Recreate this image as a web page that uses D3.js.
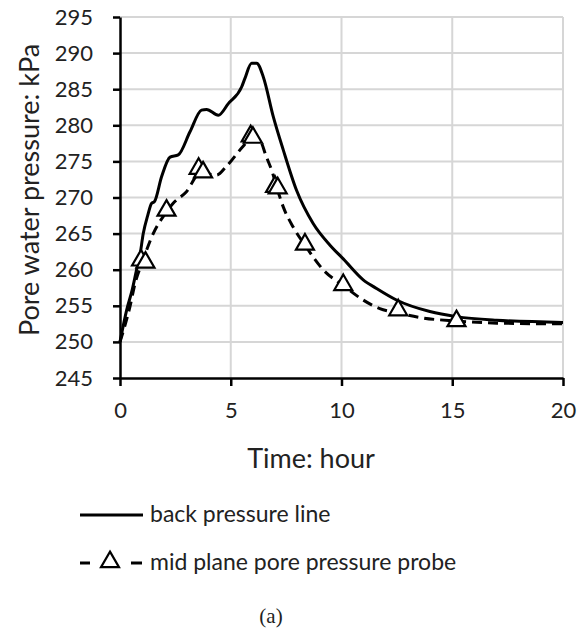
<!DOCTYPE html>
<html>
<head>
<meta charset="utf-8">
<script src="https://cdn.jsdelivr.net/npm/d3@7"></script>
<style>
  body { margin: 0; background: #fff; }
  svg text { font-family: Lato, "Open Sans", sans-serif; fill: #222; }
</style>
</head>
<body>
<svg id="chart" width="587" height="630"></svg>
<script>
// back pressure line (hour, kPa)
const backTime  = [0, 0.3, 0.55, 0.75, 0.9, 1.05, 1.25, 1.43, 1.55, 1.88, 2.26, 2.63, 3.16, 3.68, 3.91, 4.44, 4.89, 5.49, 5.64, 5.94, 6.17, 6.47, 6.92, 7.37, 7.97, 8.72, 9.48, 10.08, 10.98, 11.58, 12.48, 13.99, 15.19, 17, 20];
const backPress = [250, 254.4, 257.2, 260, 262, 265, 267.5, 269.2, 269.4, 272.9, 275.6, 275.9, 279.1, 282.1, 282.2, 281.4, 283.0, 285.3, 286.5, 288.6, 288.6, 286.7, 281.2, 276.6, 271.0, 266.4, 263.4, 261.5, 258.6, 257.4, 255.8, 254.2, 253.5, 253.0, 252.7];

// mid plane probe, dashed line
const probeTime  = [0, 0.45, 0.68, 1.0, 1.5, 2.1, 2.4, 3.0, 3.6, 3.9, 4.36, 4.8, 5.56, 5.94, 6.3, 6.6, 6.9, 7.07, 7.37, 7.82, 8.35, 9.17, 10.08, 10.98, 11.73, 12.56, 13.69, 15.19, 17, 20];
const probePress = [250, 254.9, 258.1, 261, 265, 268, 269.2, 270.8, 273.3, 273.3, 273.1, 274.3, 277.1, 278.3, 278, 275.7, 273.3, 271.5, 268.7, 265.9, 263.4, 260, 257.8, 255.8, 254.6, 254.0, 253.3, 252.9, 252.6, 252.5];

// probe markers
const markTime  = [0.95, 1.15, 2.1, 3.55, 3.75, 5.9, 6.0, 7.0, 7.12, 8.35, 10.08, 12.56, 15.19];
const markPress = [261.3, 261.0, 268.2, 274.0, 273.5, 278.5, 278.3, 271.5, 271.3, 263.5, 257.9, 254.4, 252.9];

const xTicks = [0, 5, 10, 15, 20];
const yTicks = [245, 250, 255, 260, 265, 270, 275, 280, 285, 290, 295];

const svg = d3.select('#chart');
const plotLeft = 120, plotRight = 563, plotTop = 17, plotBottom = 378;

const x = d3.scaleLinear().domain([0, 20]).range([plotLeft, plotRight]);
const y = d3.scaleLinear().domain([245, 295]).range([plotBottom, plotTop]);

// grid
svg.append('g')
    .selectAll('line')
    .data(yTicks.slice(1))
    .join('line')
    .attr('x1', plotLeft).attr('x2', plotRight)
    .attr('y1', d => y(d)).attr('y2', d => y(d))
    .attr('stroke', '#d6d6d6').attr('stroke-width', 2);
svg.append('g')
    .selectAll('line')
    .data(xTicks.slice(1))
    .join('line')
    .attr('x1', d => x(d)).attr('x2', d => x(d))
    .attr('y1', plotTop).attr('y2', plotBottom)
    .attr('stroke', '#d6d6d6').attr('stroke-width', 2);

// axes
const xAxis = svg.append('g')
    .attr('transform', `translate(0,${plotBottom})`)
    .call(d3.axisBottom(x).tickValues(xTicks).tickSize(8).tickPadding(16).tickSizeOuter(0));
const yAxis = svg.append('g')
    .attr('transform', `translate(${plotLeft},0)`)
    .call(d3.axisLeft(y).tickValues(yTicks).tickSize(7).tickPadding(20).tickSizeOuter(0));
[xAxis, yAxis].forEach(a => {
    a.select('.domain').attr('stroke', '#000').attr('stroke-width', 2.5);
    a.selectAll('.tick line').attr('stroke', '#000').attr('stroke-width', 2.5);
    a.selectAll('.tick text').style('font-size', '22px').attr('fill', '#222');
});

const line = d3.line()
    .x(d => x(d[0]))
    .y(d => y(d[1]))
    .curve(d3.curveMonotoneX);

const back = backTime.map((t, i) => [t, backPress[i]]);
const probe = probeTime.map((t, i) => [t, probePress[i]]);
const marks = markTime.map((t, i) => [t, markPress[i]]);

svg.append('path')
    .attr('d', line(probe))
    .attr('fill', 'none')
    .attr('stroke', '#000')
    .attr('stroke-width', 3)
    .attr('stroke-dasharray', '10,6');

svg.append('path')
    .attr('d', line(back))
    .attr('fill', 'none')
    .attr('stroke', '#000')
    .attr('stroke-width', 3);

const tri = d3.symbol().type(d3.symbolTriangle).size(140);
svg.append('g')
    .selectAll('path')
    .data(marks)
    .join('path')
    .attr('d', tri)
    .attr('transform', d => `translate(${x(d[0])},${y(d[1])})`)
    .attr('fill', '#fff')
    .attr('stroke', '#000')
    .attr('stroke-width', 2.2);

// axis titles
svg.append('text')
    .attr('x', 311).attr('y', 468)
    .attr('text-anchor', 'middle')
    .style('font-size', '27px')
    .text('Time: hour');
svg.append('text')
    .attr('transform', 'translate(39,190) rotate(-90)')
    .attr('text-anchor', 'middle')
    .style('font-size', '27px')
    .text('Pore water pressure: kPa');

// legend
const lg = svg.append('g');
lg.append('line')
    .attr('x1', 80).attr('x2', 143).attr('y1', 515).attr('y2', 515)
    .attr('stroke', '#000').attr('stroke-width', 3);
lg.append('text')
    .attr('x', 150).attr('y', 522)
    .style('font-size', '23px')
    .text('back pressure line');
lg.append('line')
    .attr('x1', 80).attr('x2', 90).attr('y1', 563).attr('y2', 563)
    .attr('stroke', '#000').attr('stroke-width', 3);
lg.append('line')
    .attr('x1', 131).attr('x2', 142).attr('y1', 563).attr('y2', 563)
    .attr('stroke', '#000').attr('stroke-width', 3);
lg.append('path')
    .attr('d', tri)
    .attr('transform', 'translate(110,562)')
    .attr('fill', '#fff')
    .attr('stroke', '#000')
    .attr('stroke-width', 2.2);
lg.append('text')
    .attr('x', 150).attr('y', 570)
    .style('font-size', '23px')
    .text('mid plane pore pressure probe');

svg.append('text')
    .attr('x', 271).attr('y', 623)
    .attr('text-anchor', 'middle')
    .style('font-family', '"Liberation Serif", "Times New Roman", serif')
    .style('font-size', '21px')
    .text('(a)');
</script>
</body>
</html>
